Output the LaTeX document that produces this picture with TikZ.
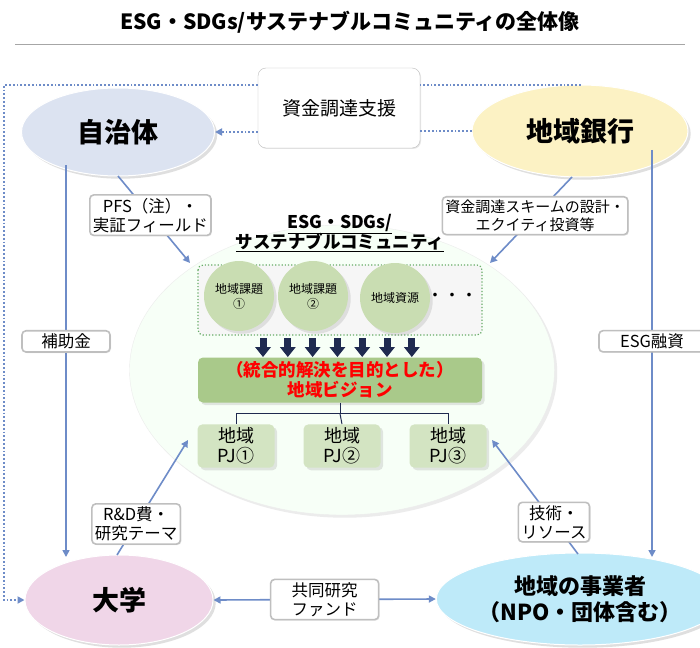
\documentclass[tikz,border=0pt]{standalone}
\usepackage{fontspec}
\setmainfont{Noto Sans CJK JP}
\usetikzlibrary{shapes.geometric,arrows.meta,shadows}
\definecolor{conn}{HTML}{6E8CC8}
\definecolor{navy}{HTML}{1F2A50}
\definecolor{visg}{HTML}{A9C98A}
\definecolor{pjg}{HTML}{D3E4C2}
\definecolor{circg}{HTML}{C9DDB2}
\begin{document}
\begin{tikzpicture}[x=1pt,y=-1pt,
  conline/.style={draw=conn,line width=1.6pt},
  dotline/.style={draw=conn,line width=1.8pt,dotted},
  arr/.style={-{Triangle[length=7pt,width=7pt]}},
  ell/.style={ellipse,draw=white,line width=1pt,minimum width=#1,drop shadow={opacity=0.25}},
  lbl/.style={draw=gray!50,fill=white,rounded corners=4pt,align=center,font=\fontsize{16.5}{19}\selectfont,inner sep=3pt,drop shadow={opacity=0.2,shadow xshift=1pt,shadow yshift=-1pt}},
  big/.style={font=\fontsize{27}{31}\selectfont\bfseries},
  circ/.style={circle,fill=circg,minimum size=70pt,inner sep=1pt,align=center,font=\fontsize{12}{15}\selectfont,drop shadow={opacity=0.2}},
  pj/.style={rectangle,rounded corners=5pt,fill=pjg,minimum width=77pt,minimum height=42pt,align=center,font=\fontsize{18}{20}\selectfont,drop shadow={opacity=0.2}}]
\useasboundingbox (0,0) rectangle (700,647);
\fill[white] (0,0) rectangle (700,647);
% title
\node[font=\fontsize{21}{24}\selectfont\bfseries] (title) at (350,22) {ESG・SDGs/サステナブルコミュニティの全体像};
\draw[gray!70,line width=1pt] (15,45) -- (685,45);
% big ellipse
\node[ellipse,fill=black!5!green!3!white,draw=gray!15,minimum width=425pt,minimum height=290pt,drop shadow={opacity=0.15}] (comm) at (342,370) {};
\node[font=\fontsize{17.5}{20}\selectfont\bfseries,align=center] (commt) at (340,233) {\underline{ESG・SDGs/}\\[-2pt]\underline{サステナブルコミュニティ}};
% dotted group
\draw[green!45!black!60,line width=1.2pt,dotted,rounded corners=5pt,fill=gray!7] (198,265) rectangle (482,335);
\node[circ] (c1) at (239,296) {地域課題\\①};
\node[circ] (c2) at (313,296) {地域課題\\②};
\node[circ] (c3) at (395,298) {地域資源};
\node[font=\fontsize{17}{18}\selectfont] (dots) at (452,297) {・・・};
\foreach \i in {0,...,6} {
  \fill[navy] (263+\i*24.8-3.5,338) rectangle (263+\i*24.8+3.5,347);
  \fill[navy] (263+\i*24.8-8,347) -- (263+\i*24.8+8,347) -- (263+\i*24.8,357) -- cycle;
}
\node[rectangle,rounded corners=5pt,fill=visg,minimum width=284pt,minimum height=45pt,align=center,inner sep=1pt,text=red,font=\fontsize{17.5}{20}\selectfont\bfseries,drop shadow={opacity=0.2}] (vis) at (340,380) {（統合的解決を目的とした）\\地域ビジョン};
\node[pj] (p1) at (236,446) {地域\\PJ①};
\node[pj] (p2) at (342,446) {地域\\PJ②};
\node[pj] (p3) at (448,446) {地域\\PJ③};
\draw[navy,line width=1pt] (vis.south) -- ++(0,11) coordinate (tj);
\draw[navy,line width=1pt] (p1.north) |- (tj) -| (p3.north);
\draw[navy,line width=1pt] (tj) -- (p2.north);
% outer ellipses
\node[ell=193pt,minimum height=88pt,fill={rgb,255:red,220;green,227;blue,241},big] (jichi) at (118,132) {自治体};
\node[ell=216pt,minimum height=92pt,fill={rgb,255:red,252;green,242;blue,196},big] (bank) at (580,131) {地域銀行};
\node[ell=188pt,minimum height=90pt,fill={rgb,255:red,240;green,214;blue,232},big] (univ) at (119,600) {大学};
\node[ell=216pt,minimum height=92pt,fill={rgb,255:red,190;green,234;blue,249},align=center,inner sep=0pt,font=\fontsize{22}{26}\selectfont\bfseries] (biz) at (580,599) {地域の事業者\\（NPO・団体含む）};
\node[lbl,minimum width=162pt,minimum height=80pt,font=\fontsize{19}{22}\selectfont,rounded corners=8pt] (fund) at (339,108) {資金調達支援};
% dotted connectors
\draw[dotline] (bank.west) -- (fund.east|-bank.west);
\draw[dotline,arr] (fund.west|-jichi.east) -- (jichi.east);
\coordinate (tr) at (580,85);
\coordinate (tl) at (4,85);
\coordinate (bl) at (4,600);
\draw[dotline] (bank.north) -- (tr) -- (fund.east|-tr);
\draw[dotline,arr] (fund.west|-tl) -- (tl) -- (bl) -- (univ.west);
% solid connectors
\coordinate (ca) at (190,263);
\coordinate (cb) at (490,263);
\coordinate (cc) at (188,440);
\coordinate (cd) at (492,440);
\draw[conline,arr] (118,176) -- node[lbl,pos=0.45]{PFS（注）・\\実証フィールド} (ca);
\draw[conline,arr] (572,177) -- node[lbl,pos=0.45,font=\fontsize{15}{18}\selectfont]{資金調達スキームの設計・\\エクイティ投資等} (cb);
\draw[conline,arr] (66,165) -- node[lbl,pos=0.45,minimum width=88pt]{補助金} (66,557);
\draw[conline,arr] (652,150) -- node[lbl,pos=0.47,minimum width=106pt]{ESG融資} (652,557);
\draw[conline,arr] (117,555) -- node[lbl,pos=0.27]{R\&D費・\\研究テーマ} (cc);
\draw[conline,arr] (578,554) -- node[lbl,pos=0.28]{技術・\\リソース} (cd);
\draw[conline,{Triangle[length=7pt,width=7pt]}-{Triangle[length=7pt,width=7pt]}] (univ.east) -- node[lbl,minimum width=108pt]{共同研究\\ファンド} (biz.west);
\end{tikzpicture}
\end{document}
